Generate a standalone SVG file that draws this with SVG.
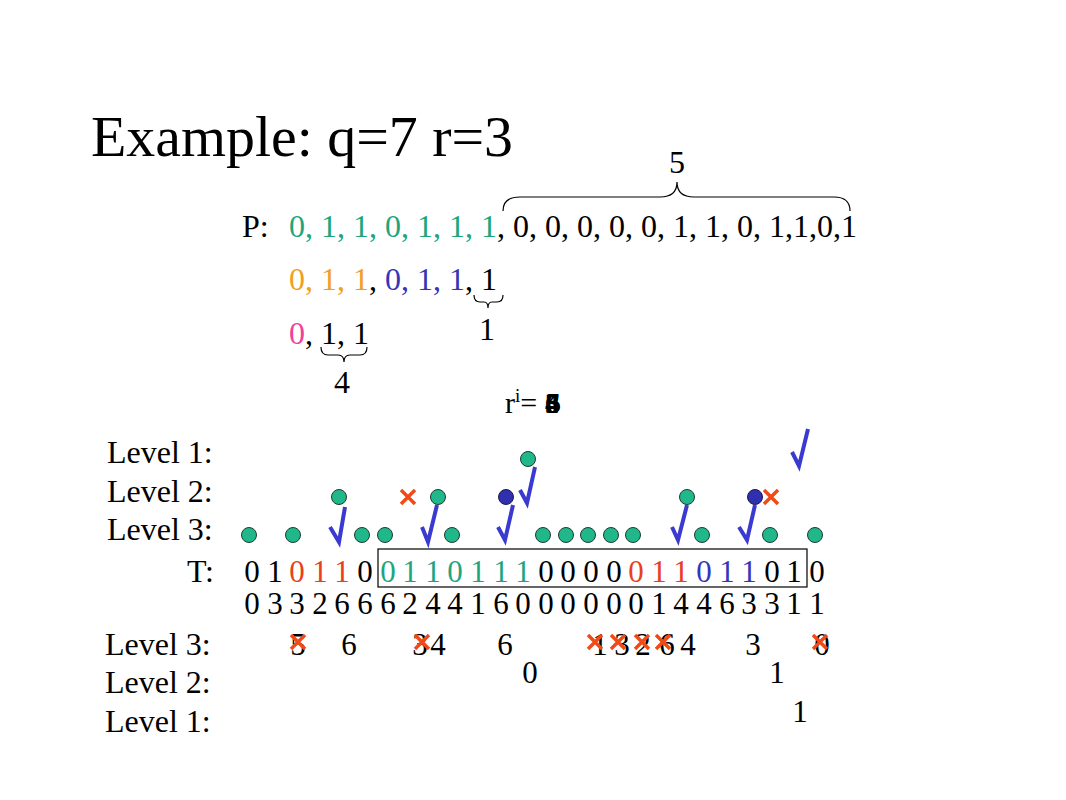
<svg xmlns="http://www.w3.org/2000/svg" width="1066" height="800" viewBox="0 0 1066 800">
<style>
text{font-family:"Liberation Serif","Times New Roman",serif;fill:#000}
.t32{font-size:32px}
.d{font-size:31px;text-anchor:middle}
.g{fill:#1ea57f}.o{fill:#f0a020}.b{fill:#3535b8}.m{fill:#f0409a}.r{fill:#e8401c}
.gc{fill:#20b88a;stroke:#1d3b33;stroke-width:1}
.bc{fill:#2f2fb0;stroke:#1a1a50;stroke-width:1}
.ck{fill:none;stroke:#3a3ad0;stroke-width:4;stroke-linejoin:miter}
.x{stroke:#f04a18;stroke-width:3.5;fill:none}
.br{fill:none;stroke:#000;stroke-width:1.2}
.ri{font-size:30px}
</style>
<defs>
<g id="xm"><path class="x" d="M-7,-7L7,7M7,-7L-7,7"/></g>
</defs>
<rect width="1066" height="800" fill="#fff"/>
<g id="title"><text x="91" y="156" font-size="58" textLength="422" lengthAdjust="spacingAndGlyphs">Example: q=7 r=3</text></g>

<g id="pattern">
<text class="t32" x="242" y="237">P:</text>
<text class="t32" x="289" y="237"><tspan class="g">0, 1, 1, 0, 1, 1, 1</tspan>, 0, 0, 0, 0, 0, 1, 1, 0, 1,1,0,1</text>
<text class="t32" x="289" y="290"><tspan class="o">0, 1, 1</tspan>, <tspan class="b">0, 1, 1</tspan>, 1</text>
<text class="t32" x="289" y="344"><tspan class="m">0</tspan>, 1, 1</text>
</g>

<g id="braces">
<path class="br" d="M503,211 Q503,197 520,197 L660,197 Q677,197 677,182 Q677,197 694,197 L834,197 Q850,197 850,211"/>
<text class="t32" x="677" y="173" text-anchor="middle">5</text>
<path class="br" d="M474,295 Q474,302 480,302 L484,302 Q488,302 488,308 Q488,302 492,302 L497,302 Q503,302 503,295"/>
<text class="t32" x="487" y="340" text-anchor="middle">1</text>
<path class="br" d="M321,347 Q321,355 328,355 L338,355 Q344,355 344,362 Q344,355 350,355 L360,355 Q367,355 367,347"/>
<text class="t32" x="342" y="393" text-anchor="middle">4</text>
</g>

<g id="ri">
<text class="ri" x="505" y="413">r<tspan font-size="19" dy="-11">i</tspan><tspan dy="11">=</tspan></text>
<text class="ri" x="545" y="413" font-weight="bold">3</text>
<text class="ri" x="545" y="413" font-weight="bold">4</text>
<text class="ri" x="546" y="413" font-weight="bold">5</text>
<text class="ri" x="545" y="413" font-weight="bold">6</text>
</g>

<g id="labels">
<text class="t32" x="107" y="463">Level 1:</text>
<text class="t32" x="107" y="502">Level 2:</text>
<text class="t32" x="107" y="540">Level 3:</text>
<text class="t32" x="187" y="582">T:</text>
<text class="t32" x="105" y="655">Level 3:</text>
<text class="t32" x="105" y="693">Level 2:</text>
<text class="t32" x="105" y="732">Level 1:</text>
</g>

<g id="nodes-level1"><circle class="gc" cx="528" cy="459" r="7.5"/></g>
<g id="nodes-level2">
<circle class="gc" cx="339" cy="497" r="7.5"/>
<circle class="gc" cx="438" cy="497" r="7.5"/>
<circle class="bc" cx="506" cy="497" r="7.5"/>
<circle class="gc" cx="687" cy="497" r="7.5"/>
<circle class="bc" cx="755" cy="497" r="7.5"/>
</g>
<g id="nodes-level3">
<circle class="gc" cx="249" cy="535" r="7.5"/>
<circle class="gc" cx="293" cy="535" r="7.5"/>
<circle class="gc" cx="362" cy="535" r="7.5"/>
<circle class="gc" cx="385" cy="535" r="7.5"/>
<circle class="gc" cx="452" cy="535" r="7.5"/>
<circle class="gc" cx="543" cy="535" r="7.5"/>
<circle class="gc" cx="566" cy="535" r="7.5"/>
<circle class="gc" cx="588" cy="535" r="7.5"/>
<circle class="gc" cx="611" cy="535" r="7.5"/>
<circle class="gc" cx="633" cy="535" r="7.5"/>
<circle class="gc" cx="702" cy="535" r="7.5"/>
<circle class="gc" cx="770" cy="535" r="7.5"/>
<circle class="gc" cx="815" cy="535" r="7.5"/>
</g>

<g id="connectors">
<polyline class="ck" points="330,527 339,542 345,507"/>
<polyline class="ck" points="422,527 428,542 437,505"/>
<polyline class="ck" points="498,527 505,540 513,505"/>
<polyline class="ck" points="520,490 527,503 535,467"/>
<polyline class="ck" points="672,527 678,540 687,505"/>
<polyline class="ck" points="739,527 747,540 755,505"/>
<polyline class="ck" points="792,452 799,466 808,429"/>
<use href="#xm" x="408" y="497"/>
<use href="#xm" x="771" y="497"/>
</g>

<g id="text-T">
<rect x="378" y="549" width="429" height="38" fill="none" stroke="#000" stroke-width="1.2"/>
<text class="d" y="582">
<tspan x="252">0</tspan><tspan x="275">1</tspan><tspan x="297" class="r">0</tspan><tspan x="320" class="r">1</tspan><tspan x="342" class="r">1</tspan><tspan x="365">0</tspan><tspan x="388" class="g">0</tspan><tspan x="410" class="g">1</tspan><tspan x="433" class="g">1</tspan><tspan x="455" class="g">0</tspan><tspan x="478" class="g">1</tspan><tspan x="501" class="g">1</tspan><tspan x="523" class="g">1</tspan><tspan x="546">0</tspan><tspan x="568">0</tspan><tspan x="591">0</tspan><tspan x="614">0</tspan><tspan x="636" class="r">0</tspan><tspan x="659" class="r">1</tspan><tspan x="681" class="r">1</tspan><tspan x="704" class="b">0</tspan><tspan x="727" class="b">1</tspan><tspan x="749" class="b">1</tspan><tspan x="772">0</tspan><tspan x="794">1</tspan><tspan x="817">0</tspan>
</text>
<text class="d" y="614">
<tspan x="252">0</tspan><tspan x="275">3</tspan><tspan x="297">3</tspan><tspan x="320">2</tspan><tspan x="342">6</tspan><tspan x="365">6</tspan><tspan x="388">6</tspan><tspan x="410">2</tspan><tspan x="433">4</tspan><tspan x="455">4</tspan><tspan x="478">1</tspan><tspan x="501">6</tspan><tspan x="523">0</tspan><tspan x="546">0</tspan><tspan x="568">0</tspan><tspan x="591">0</tspan><tspan x="614">0</tspan><tspan x="636">0</tspan><tspan x="659">1</tspan><tspan x="681">4</tspan><tspan x="704">4</tspan><tspan x="727">6</tspan><tspan x="749">3</tspan><tspan x="772">3</tspan><tspan x="794">1</tspan><tspan x="817">1</tspan>
</text>
</g>

<g id="text-levels">
<text class="d" y="655">
<tspan x="298">5</tspan><tspan x="349">6</tspan><tspan x="420">3</tspan><tspan x="438">4</tspan><tspan x="505">6</tspan><tspan x="600">1</tspan><tspan x="622">3</tspan><tspan x="643">2</tspan><tspan x="667">6</tspan><tspan x="688">4</tspan><tspan x="753">3</tspan><tspan x="822">0</tspan>
</text>
<text class="d" y="683"><tspan x="530">0</tspan><tspan x="777">1</tspan></text>
<text class="d" y="722"><tspan x="800">1</tspan></text>
<use href="#xm" x="298" y="642"/>
<use href="#xm" x="422" y="642"/>
<use href="#xm" x="595" y="642"/>
<use href="#xm" x="618" y="642"/>
<use href="#xm" x="642" y="642"/>
<use href="#xm" x="663" y="642"/>
<use href="#xm" x="820" y="642"/>
</g>
</svg>
